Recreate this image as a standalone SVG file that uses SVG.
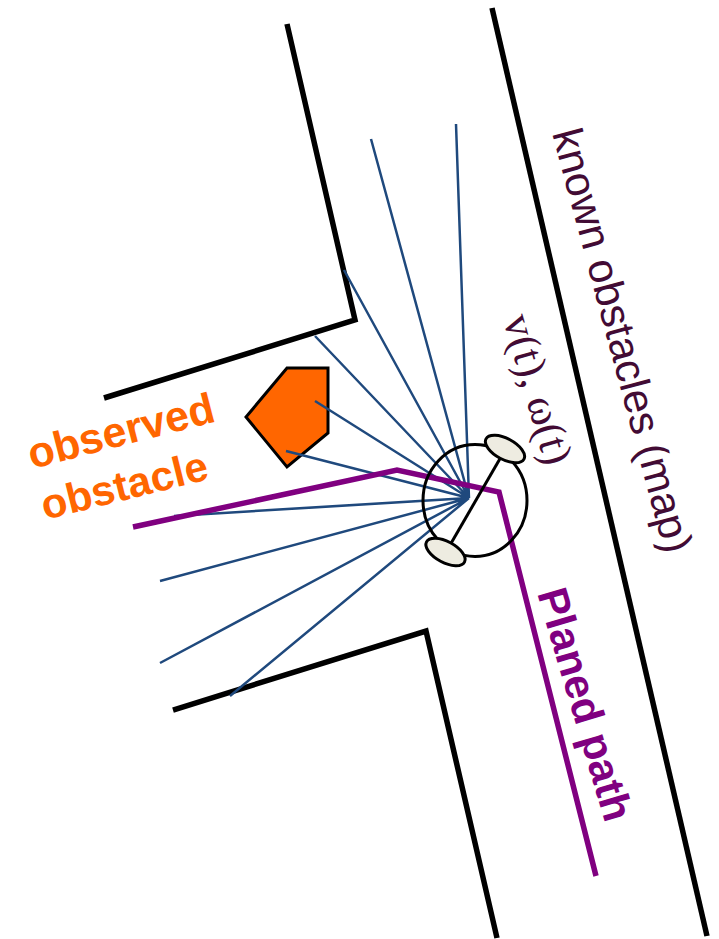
<svg xmlns="http://www.w3.org/2000/svg" width="719" height="939" viewBox="0 0 719 939">
<style>
.wall{fill:none;stroke:#000;stroke-width:5.5}
.ray{fill:none;stroke:#1f497d;stroke-width:2.5}
.path{fill:none;stroke:#800080;stroke-width:5.5}
.wheel{fill:#eeece1;stroke:#000;stroke-width:3}
.dark{font-family:"Liberation Sans",Arial,sans-serif;font-size:42.5px;fill:#420b34}
.serif{font-family:"Liberation Serif","Times New Roman",serif;font-size:43.5px;fill:#420b34}
.big{font-family:"Liberation Sans",Arial,sans-serif;font-size:43px;font-weight:bold}
</style>
<rect width="719" height="939" fill="#fff"/>
<g id="walls">
<path class="wall" d="M287 24L355 320L104 398"/>
<path class="wall" d="M492 8L707 936"/>
<path class="wall" d="M173 710L426 631L497 938"/>
</g>
<g id="obstacle"><path d="M287 368H328V433L287 467L246 417Z" fill="#ff6600" stroke="#000" stroke-width="3"/></g>
<g id="connectors">
<path class="ray" d="M469 498L456 124M469 498L371 139M469 498L344 270M469 498L315 336M469 498L315 401M469 498L286 451M469 498L174 516M469 498L160 581M469 498L160 663M469 498L230 696"/>
<path class="path" d="M133 527L397 470L499 492L596 876"/>
</g>
<g id="robot">
<ellipse cx="475" cy="500.500" rx="52" ry="56" fill="none" stroke="#000" stroke-width="3"/>
<path d="M505 450L446 552" stroke="#000" stroke-width="3"/>
<ellipse cx="505" cy="449" rx="21.500" ry="10.500" transform="rotate(28 505 449)" class="wheel"/>
<ellipse cx="445.500" cy="552" rx="21.500" ry="10.500" transform="rotate(28 445.500 552)" class="wheel"/>
</g>
<g id="labels">
<text class="dark" transform="translate(552 133) rotate(75)">known obstacles (map)</text>
<text class="serif" transform="translate(503 319) rotate(74)">v(t), ω(t)</text>
<text class="big" fill="#ff6600" transform="translate(32 469) rotate(-14.5)">observed</text>
<text class="big" fill="#ff6600" font-size="42" style="font-size:42px" transform="translate(45 520) rotate(-14)">obstacle</text>
<text class="big" fill="#800080" style="font-size:42.500px" transform="translate(537 593) rotate(73.500)">Planed path</text>
</g>
</svg>
